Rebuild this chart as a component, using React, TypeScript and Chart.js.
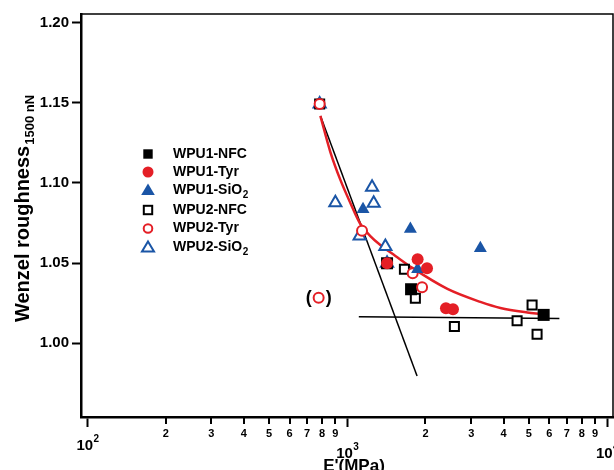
import React, { useEffect, useRef } from 'react';
import { Chart, registerables } from 'chart.js';

Chart.register(...registerables);

const FONT = '"Liberation Sans", Arial, Helvetica, sans-serif';
const RED = '#e41f26';
const BLUE = '#1a55a6';
const BLACK = '#000000';
const WHITE = '#ffffff';

// ---- data (E' in MPa, Wenzel roughness) ----
const wpu1NfcE = [1423, 1761, 5703];
const wpu1NfcR = [1.0499, 1.0337, 1.0177];

const wpu1TyrE = [1423, 1866, 2028, 2399, 2553];
const wpu1TyrR = [1.0499, 1.0524, 1.0468, 1.0218, 1.0212];

const wpu1SioE = [1150, 1750, 1866, 3254];
const wpu1SioR = [1.0836, 1.0713, 1.0462, 1.0593];

const wpu2NfcE = [783, 1660, 1829, 2585, 4507, 5147, 5380];
const wpu2NfcR = [1.1493, 1.0462, 1.0281, 1.0104, 1.0141, 1.0239, 1.0056];

const wpu2TyrE = [783, 1140, 1786, 1941];
const wpu2TyrR = [1.1493, 1.0702, 1.0437, 1.0349];

const wpu2SioE = [783, 900, 1116, 1246, 1264, 1402, 1423];
const wpu2SioR = [1.1493, 1.0877, 1.0669, 1.0973, 1.0873, 1.0603, 1.0499];

// excluded point shown in parentheses
const outlierE = [776];
const outlierR = [1.0284];

// red fitted curve
const fitE = [788, 861, 941, 1028, 1123, 1227, 1341, 1532, 1781, 2430, 3254, 3886, 4937, 5540];
const fitR = [1.1418, 1.1193, 1.1019, 1.0875, 1.0744, 1.0669, 1.0613, 1.0545, 1.047, 1.0339, 1.0258, 1.022, 1.0192, 1.0183];

// black straight lines
const steepE = [789, 1857];
const steepR = [1.1418, 0.9796];
const flatE = [1108, 6556];
const flatR = [1.0166, 1.0155];

// axes
const yTicks = [1.0, 1.05, 1.1, 1.15, 1.2];
const xMajor = [100, 1000, 10000];
const xMajorExp = ['2', '3', '4'];
const xMinorDigits = [2, 3, 4, 5, 6, 7, 8, 9];
const xTickValues: number[] = [];
[100, 1000].forEach((d) => {
  xTickValues.push(d);
  xMinorDigits.forEach((m) => xTickValues.push(d * m));
});
xTickValues.push(10000);

const legendItems: { kind: string; text: string; sub: string }[] = [
  { kind: 'fsq', text: 'WPU1-NFC', sub: '' },
  { kind: 'fci', text: 'WPU1-Tyr', sub: '' },
  { kind: 'ftr', text: 'WPU1-SiO', sub: '2' },
  { kind: 'osq', text: 'WPU2-NFC', sub: '' },
  { kind: 'oci', text: 'WPU2-Tyr', sub: '' },
  { kind: 'otr', text: 'WPU2-SiO', sub: '2' },
];

const pts = (xs: number[], ys: number[]) => xs.map((x, i) => ({ x, y: ys[i] }));

function drawMarker(ctx: CanvasRenderingContext2D, kind: string, x: number, y: number) {
  ctx.save();
  ctx.lineWidth = 2;
  ctx.beginPath();
  switch (kind) {
    case 'fsq':
      ctx.fillStyle = BLACK;
      ctx.fillRect(x - 4.7, y - 4.7, 9.4, 9.4);
      break;
    case 'fci':
      ctx.fillStyle = RED;
      ctx.arc(x, y, 5.5, 0, Math.PI * 2);
      ctx.fill();
      break;
    case 'ftr':
      ctx.fillStyle = BLUE;
      ctx.moveTo(x, y - 6.5);
      ctx.lineTo(x + 6.8, y + 5);
      ctx.lineTo(x - 6.8, y + 5);
      ctx.closePath();
      ctx.fill();
      break;
    case 'osq':
      ctx.strokeStyle = BLACK;
      ctx.strokeRect(x - 4.2, y - 4.2, 8.4, 8.4);
      break;
    case 'oci':
      ctx.strokeStyle = RED;
      ctx.arc(x, y, 4.3, 0, Math.PI * 2);
      ctx.stroke();
      break;
    case 'otr':
      ctx.strokeStyle = BLUE;
      ctx.moveTo(x, y - 5.5);
      ctx.lineTo(x + 6, y + 4.5);
      ctx.lineTo(x - 6, y + 4.5);
      ctx.closePath();
      ctx.stroke();
      break;
  }
  ctx.restore();
}

const decorPlugin = {
  id: 'decor',
  afterDraw(chart: any) {
    const { ctx, chartArea: a, scales } = chart;
    const xs = scales.x;
    const ys = scales.y;
    ctx.save();

    // top and right frame
    ctx.strokeStyle = BLACK;
    ctx.lineWidth = 1.5;
    ctx.beginPath();
    ctx.moveTo(a.left, a.top);
    ctx.lineTo(a.right, a.top);
    ctx.lineTo(a.right, a.bottom);
    ctx.stroke();

    // minor x ticks (shorter)
    ctx.lineWidth = 2;
    xTickValues.forEach((v) => {
      if (xMajor.includes(v)) return;
      const px = Math.round(xs.getPixelForValue(v));
      ctx.beginPath();
      ctx.moveTo(px, a.bottom);
      ctx.lineTo(px, a.bottom + 7);
      ctx.stroke();
    });

    // major x labels 10^n
    ctx.fillStyle = BLACK;
    ctx.textBaseline = 'middle';
    ctx.textAlign = 'left';
    xMajor.forEach((v, i) => {
      const px = xs.getPixelForValue(v);
      ctx.font = `bold 15px ${FONT}`;
      const w1 = ctx.measureText('10').width;
      ctx.font = `bold 10px ${FONT}`;
      const w2 = ctx.measureText(xMajorExp[i]).width;
      const x0 = px - (w1 + w2) / 2;
      const cy = i === 0 ? 446 : 454;
      ctx.font = `bold 15px ${FONT}`;
      ctx.fillText('10', x0, cy);
      ctx.font = `bold 10px ${FONT}`;
      ctx.fillText(xMajorExp[i], x0 + w1 + 0.5, cy - 7);
    });

    // x title
    ctx.font = `bold 17px ${FONT}`;
    ctx.textAlign = 'center';
    ctx.textBaseline = 'alphabetic';
    ctx.fillText("E'(MPa)", (a.left + a.right) / 2 + 7, 471);

    // y title with subscript
    ctx.save();
    ctx.translate(29, 209);
    ctx.rotate(-Math.PI / 2);
    const main = 'Wenzel roughness';
    const sub = '1500 nN';
    ctx.font = `bold 20px ${FONT}`;
    const wm = ctx.measureText(main).width;
    ctx.font = `bold 13px ${FONT}`;
    const ws = ctx.measureText(sub).width;
    const sx = -(wm + ws) / 2;
    ctx.textAlign = 'left';
    ctx.font = `bold 20px ${FONT}`;
    ctx.fillText(main, sx, 0);
    ctx.font = `bold 13px ${FONT}`;
    ctx.fillText(sub, sx + wm + 1, 5);
    ctx.restore();

    // parentheses around excluded point
    ctx.font = `bold 18px ${FONT}`;
    ctx.textAlign = 'center';
    ctx.textBaseline = 'middle';
    outlierE.forEach((e, i) => {
      const px = xs.getPixelForValue(e);
      const py = ys.getPixelForValue(outlierR[i]);
      ctx.fillText('(', px - 10, py);
      ctx.fillText(')', px + 10, py);
    });

    // legend
    const mx = 148;
    const tx = 173;
    legendItems.forEach((it, i) => {
      const y = i < 3 ? 154 + i * 18 : 210 + (i - 3) * 18.5;
      drawMarker(ctx, it.kind, mx, y);
      ctx.textAlign = 'left';
      ctx.textBaseline = 'middle';
      ctx.font = `bold 14px ${FONT}`;
      ctx.fillStyle = BLACK;
      ctx.fillText(it.text, tx, y);
      if (it.sub) {
        const w = ctx.measureText(it.text).width;
        ctx.font = `bold 10px ${FONT}`;
        ctx.fillText(it.sub, tx + w + 0.5, y + 5);
      }
    });

    ctx.restore();
  },
};

export default function App() {
  const ref = useRef<HTMLCanvasElement | null>(null);

  useEffect(() => {
    if (!ref.current) return;
    const lineCommon = {
      showLine: true,
      pointRadius: 0,
      pointHoverRadius: 0,
      fill: false,
    };
    const chart = new Chart(ref.current, {
      type: 'scatter',
      data: {
        datasets: [
          {
            label: 'steep',
            data: pts(steepE, steepR),
            borderColor: BLACK,
            borderWidth: 1.5,
            order: 20,
            ...lineCommon,
          },
          {
            label: 'flat',
            data: pts(flatE, flatR),
            borderColor: BLACK,
            borderWidth: 1.5,
            order: 21,
            ...lineCommon,
          },
          {
            label: 'fit',
            data: pts(fitE, fitR),
            borderColor: RED,
            borderWidth: 2.5,
            cubicInterpolationMode: 'monotone',
            order: 19,
            ...lineCommon,
          },
          {
            label: 'WPU2-SiO₂',
            data: pts(wpu2SioE, wpu2SioR),
            pointStyle: 'triangle',
            pointRadius: 7,
            backgroundColor: WHITE,
            borderColor: BLUE,
            borderWidth: 2,
            order: 6,
          },
          {
            label: 'WPU2-NFC',
            data: pts(wpu2NfcE, wpu2NfcR),
            pointStyle: 'rect',
            pointRadius: 6.4,
            backgroundColor: WHITE,
            borderColor: BLACK,
            borderWidth: 2,
            order: 5,
          },
          {
            label: 'WPU1-NFC',
            data: pts(wpu1NfcE, wpu1NfcR),
            pointStyle: 'rect',
            pointRadius: 8.5,
            backgroundColor: BLACK,
            borderColor: BLACK,
            borderWidth: 0,
            order: 4,
          },
          {
            label: 'WPU2-Tyr',
            data: pts(wpu2TyrE, wpu2TyrR),
            pointStyle: 'circle',
            pointRadius: 5,
            backgroundColor: WHITE,
            borderColor: RED,
            borderWidth: 2,
            order: 3,
          },
          {
            label: 'WPU2-Tyr (excluded)',
            data: pts(outlierE, outlierR),
            pointStyle: 'circle',
            pointRadius: 5,
            backgroundColor: WHITE,
            borderColor: RED,
            borderWidth: 2,
            order: 3,
          },
          {
            label: 'WPU1-SiO₂',
            data: pts(wpu1SioE, wpu1SioR),
            pointStyle: 'triangle',
            pointRadius: 7.5,
            backgroundColor: BLUE,
            borderColor: BLUE,
            borderWidth: 0,
            order: 2,
          },
          {
            label: 'WPU1-Tyr',
            data: pts(wpu1TyrE, wpu1TyrR),
            pointStyle: 'circle',
            pointRadius: 6,
            backgroundColor: RED,
            borderColor: RED,
            borderWidth: 0,
            order: 1,
          },
        ],
      },
      options: {
        responsive: false,
        animation: false,
        devicePixelRatio: 1,
        events: [],
        layout: { autoPadding: false, padding: { top: 14, right: 1, left: 0, bottom: 0 } },
        plugins: {
          legend: { display: false },
          tooltip: { enabled: false },
          title: { display: false },
        },
        scales: {
          x: {
            type: 'logarithmic',
            position: 'bottom',
            min: 94.4,
            max: 10546,
            afterBuildTicks: (scale: any) => {
              scale.ticks = xTickValues.map((v) => ({ value: v, major: xMajor.includes(v) }));
            },
            afterFit: (scale: any) => {
              scale.height = 53;
              scale.paddingLeft = 0;
              scale.paddingRight = 0;
            },
            ticks: {
              autoSkip: false,
              maxRotation: 0,
              minRotation: 0,
              padding: 0,
              color: BLACK,
              font: { family: FONT, size: 11, weight: 'bold' },
              callback: (v: any) => {
                const n = Number(v);
                if (xMajor.includes(n)) return '';
                const d = n >= 1000 ? n / 1000 : n / 100;
                return String(Math.round(d));
              },
            },
            grid: {
              display: true,
              drawOnChartArea: false,
              drawTicks: true,
              tickLength: 10,
              tickWidth: 2,
              tickColor: (c: any) => (c.tick && xMajor.includes(c.tick.value) ? BLACK : 'rgba(0,0,0,0)'),
            },
            border: { display: true, color: BLACK, width: 2.5 },
            title: { display: false },
          },
          y: {
            type: 'linear',
            position: 'left',
            min: 0.954,
            max: 1.2054,
            afterBuildTicks: (scale: any) => {
              scale.ticks = yTicks.map((v) => ({ value: v }));
            },
            afterFit: (scale: any) => {
              scale.width = 81;
              scale.paddingTop = 0;
              scale.paddingBottom = 0;
            },
            ticks: {
              padding: 3,
              color: BLACK,
              font: { family: FONT, size: 15, weight: 'bold' },
              callback: (v: any) => Number(v).toFixed(2),
            },
            grid: {
              display: true,
              drawOnChartArea: false,
              drawTicks: true,
              tickLength: 9,
              tickWidth: 2,
              tickColor: BLACK,
            },
            border: { display: true, color: BLACK, width: 2.5 },
            title: { display: false },
          },
        },
      },
      plugins: [decorPlugin],
    } as any);
    return () => chart.destroy();
  }, []);

  return (
    <canvas
      ref={ref}
      width={614}
      height={470}
      style={{ position: 'fixed', left: 0, top: 0, width: 614, height: 470, background: '#fff' }}
    />
  );
}
